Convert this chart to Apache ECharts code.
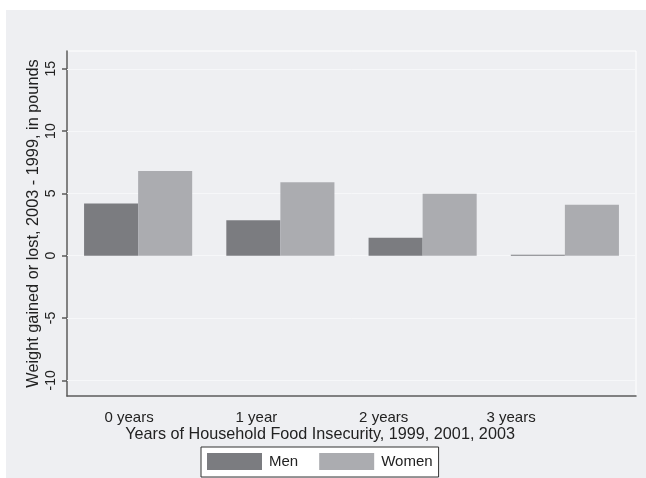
<!DOCTYPE html>
<html>
<head>
<meta charset="utf-8">
<script src="https://cdn.jsdelivr.net/npm/echarts@6/dist/echarts.min.js"></script>
<style>
html,body{margin:0;padding:0;background:#fff;}
#c{width:646px;height:478px;}
</style>
</head>
<body>
<div id="c"></div>
<script>
var categories = ['0 years', '1 year', '2 years', '3 years'];
var men = [4.2, 2.85, 1.45, 0.08];
var women = [6.8, 5.9, 4.98, 4.08];
var yTicks = [-10, -5, 0, 5, 10, 15];
var yMin = -11.26, yMax = 16.43;
var xTitle = 'Years of Household Food Insecurity, 1999, 2001, 2003';
var yTitle = 'Weight gained or lost, 2003 - 1999, in pounds';

var FONT = '"Liberation Sans", Arial, sans-serif';
var BG = '#eeeff2';
var chart = echarts.init(document.getElementById('c'), null, {renderer: 'canvas'});
chart.setOption({
  animation: false,
  backgroundColor: '#ffffff',
  textStyle: {fontFamily: FONT},
  graphic: [{
    type: 'rect', left: 6, top: 10, z: -10,
    shape: {width: 640, height: 468},
    style: {fill: BG}
  }],
  grid: [
    {left: 67, right: 10, top: 51, bottom: 82, show: true, borderColor: '#ffffff', borderWidth: 1, backgroundColor: 'transparent'},
    {left: 65.4, right: 71.3, top: 51, bottom: 82, show: false}
  ],
  xAxis: [
    {type: 'category', gridIndex: 0, data: categories,
     axisLine: {onZero: false, lineStyle: {color: '#5a5a5a', width: 1.5}},
     axisTick: {show: false}, axisLabel: {show: false}, splitLine: {show: false}},
    {type: 'category', gridIndex: 1, data: categories,
     axisLine: {show: false, onZero: false}, axisTick: {show: false},
     axisLabel: {color: '#222', fontSize: 15, margin: 14, fontFamily: FONT},
     name: xTitle, nameLocation: 'middle', nameGap: 30.5, nameMoveOverlap: false,
     nameTextStyle: {color: '#222', fontSize: 16.2, fontFamily: FONT}}
  ],
  yAxis: [
    {type: 'value', gridIndex: 0, min: yMin, max: yMax,
     axisLine: {show: true, lineStyle: {color: '#5a5a5a', width: 1.5}},
     axisTick: {show: true, length: 5, customValues: yTicks, lineStyle: {color: '#5a5a5a', width: 1.5}},
     axisLabel: {customValues: yTicks, rotate: 90, margin: 9, fontSize: 14, color: '#222', fontFamily: FONT},
     splitLine: {show: false},
     name: yTitle, nameLocation: 'middle', nameGap: 25.5, nameMoveOverlap: false,
     nameTextStyle: {color: '#222', fontSize: 16.3, fontFamily: FONT}},
    {type: 'value', gridIndex: 1, show: false}
  ],
  legend: {
    data: ['Men', 'Women'],
    left: 201, top: 447,
    orient: 'horizontal',
    itemWidth: 55, itemHeight: 17, itemGap: 21,
    padding: [6, 6, 7, 6],
    backgroundColor: '#ffffff', borderColor: '#333', borderWidth: 1,
    icon: 'rect',
    textStyle: {fontSize: 15, color: '#222', fontFamily: FONT, padding: [0, 0, 0, 2]}
  },
  series: [
    {name: 'Men', type: 'bar', xAxisIndex: 0, yAxisIndex: 0, data: men,
     barGap: '0%', barCategoryGap: '24%', z: 10,
     itemStyle: {color: '#7b7c80'},
     markLine: {silent: true, symbol: 'none', label: {show: false},
       lineStyle: {color: '#f6f7f9', type: 'solid', width: 1},
       data: yTicks.map(function (v) { return {yAxis: v}; })}},
    {name: 'Women', type: 'bar', xAxisIndex: 0, yAxisIndex: 0, data: women,
     barGap: '0%', barCategoryGap: '24%', z: 10,
     itemStyle: {color: '#abacb0'}}
  ]
});
</script>
</body>
</html>
